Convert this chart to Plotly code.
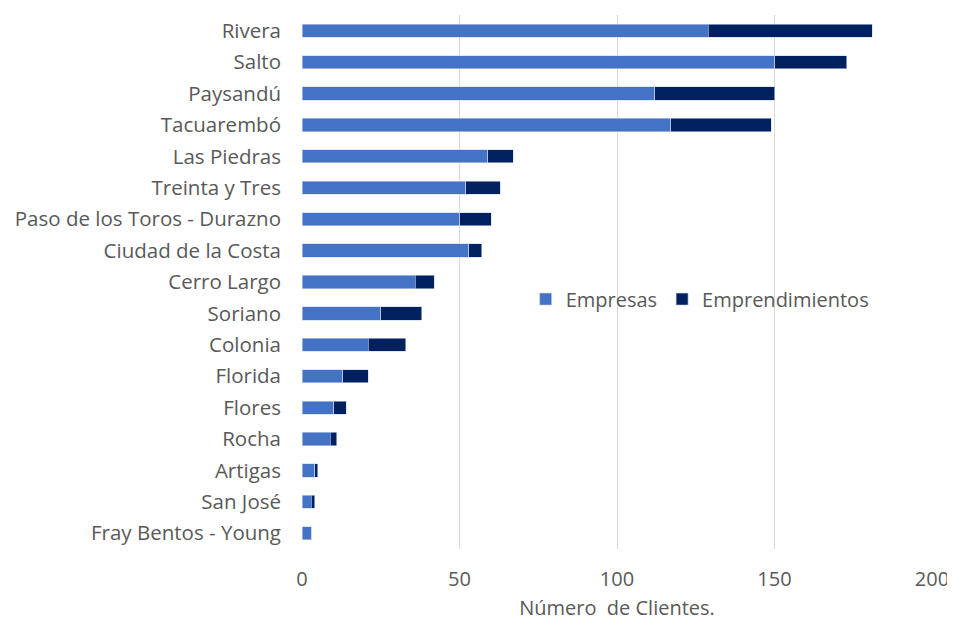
import plotly.graph_objects as go

categorias = ["Rivera", "Salto", "Paysandú", "Tacuarembó", "Las Piedras", "Treinta y Tres",
              "Paso de los Toros - Durazno", "Ciudad de la Costa", "Cerro Largo", "Soriano",
              "Colonia", "Florida", "Flores", "Rocha", "Artigas", "San José", "Fray Bentos - Young"]
empresas = [129, 150, 112, 117, 59, 52, 50, 53, 36, 25, 21, 13, 10, 9, 4, 3, 3]
emprendimientos = [52, 23, 38, 32, 8, 11, 10, 4, 6, 13, 12, 8, 4, 2, 1, 1, 0]
x_ticks = [0, 50, 100, 150, 200]

font_fam = "Open Sans, Liberation Sans, sans-serif"
grey = "#595959"

fig = go.Figure()
fig.add_trace(go.Bar(y=categorias, x=empresas, orientation="h", name="Empresas",
                     marker=dict(color="#4472C4", line=dict(color="#c9d6ee", width=0.6))))
fig.add_trace(go.Bar(y=categorias, x=emprendimientos, orientation="h", name="Emprendimientos",
                     marker=dict(color="#002060", line=dict(color="#c9d6ee", width=0.6))))

# page body has an 8px margin; the figure size/margins compensate for it
fig.update_layout(
    barmode="stack",
    bargap=0.58,
    width=947, height=613,
    margin=dict(l=294, r=23, t=7, b=72),
    paper_bgcolor="white", plot_bgcolor="white",
    font=dict(family=font_fam, size=20, color=grey),
    showlegend=True,
    legend=dict(orientation="h", x=0.355, y=0.468, xanchor="left", yanchor="middle",
                font=dict(size=20, color=grey), bgcolor="rgba(0,0,0,0)",
                traceorder="normal", itemwidth=30),
    xaxis=dict(range=[0, 200], tickvals=x_ticks, showgrid=True, gridcolor="#d9d9d9",
               gridwidth=1, zeroline=False, showline=False, automargin=False,
               tickfont=dict(size=20, color=grey), ticklabelstandoff=16,
               title=dict(text="Número  de Clientes.", font=dict(size=20, color=grey), standoff=10)),
    yaxis=dict(autorange="reversed", showgrid=False, showline=False, zeroline=False,
               automargin=False,
               tickfont=dict(size=20.5, color=grey), ticklabelstandoff=20),
)

fig.write_html("out.html")
